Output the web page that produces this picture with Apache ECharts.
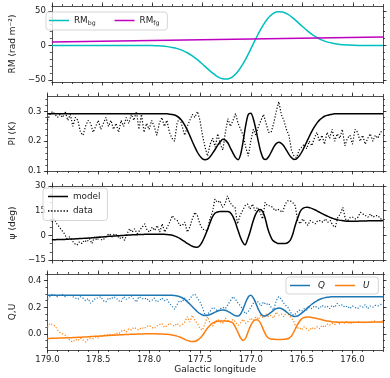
<!DOCTYPE html>
<html>
<head>
<meta charset="utf-8">
<script src="https://cdn.jsdelivr.net/npm/echarts@6/dist/echarts.min.js"></script>
<style>
html, body { margin: 0; padding: 0; background: #fff; }
#chart { width: 390px; height: 378px; }
</style>
</head>
<body>
<div id="chart"></div>
<script>
// longitude grids (deg), 179.0 down to 175.7
const lon = [];
for (let k = 0; k <= 132; k++) lon.push(+(179 - 0.025 * k).toFixed(3));
const lonRm = [];
for (let k = 0; k <= 66; k++) lonRm.push(+(179 - 0.05 * k).toFixed(2));
const lonRmFg = [179.0, 175.7];

// RM panel
const rmBg = [
  0, 0, 0, 0, 0, 0, 0, 0, 0, 0, 0, 0, 0, 0, 0, 0, 0, 0, 0, 0,
  -0.3, -0.6, -1.0, -1.8, -3.0, -4.7, -7.3, -10.7, -15.2, -20.7,
  -26.9, -33.6, -39.9, -45.2, -48.4, -48.7, -45.5, -38.5, -27.9, -14.7,
  0, 14.7, 27.9, 38.5, 45.5, 48.7, 48.4, 45.2, 39.9, 33.6,
  26.9, 20.7, 15.2, 10.7, 7.3, 4.7, 3.0, 1.8, 1.0, 0.6,
  0.3, 0, 0, 0, 0, 0, 0
];
const rmFg = [5, 12];

// PI panel (K)
const piData = [
  0.27, 0.29, 0.30, 0.29, 0.28, 0.29, 0.28, 0.30, 0.27, 0.29,
  0.25, 0.28, 0.27, 0.23, 0.22, 0.25, 0.27, 0.26, 0.23, 0.25,
  0.27, 0.24, 0.26, 0.28, 0.25, 0.27, 0.24, 0.26, 0.23, 0.27,
  0.25, 0.28, 0.26, 0.29, 0.27, 0.30, 0.24, 0.29, 0.23, 0.26,
  0.24, 0.27, 0.25, 0.22, 0.26, 0.28, 0.25, 0.27, 0.23, 0.21,
  0.20, 0.26, 0.28, 0.25, 0.22, 0.25, 0.27, 0.29, 0.28, 0.30,
  0.27, 0.22, 0.18, 0.15, 0.19, 0.21, 0.18, 0.225, 0.19, 0.17,
  0.23, 0.276, 0.25, 0.27, 0.293, 0.26, 0.24, 0.22, 0.18, 0.15,
  0.20, 0.24, 0.22, 0.25, 0.27, 0.29, 0.26, 0.23, 0.23, 0.26,
  0.30, 0.333, 0.29, 0.27, 0.24, 0.22, 0.17, 0.15, 0.145, 0.17,
  0.18, 0.19, 0.175, 0.20, 0.185, 0.21, 0.23, 0.20, 0.22, 0.19,
  0.23, 0.21, 0.24, 0.20, 0.225, 0.21, 0.24, 0.185, 0.21, 0.22,
  0.19, 0.24, 0.23, 0.20, 0.22, 0.19, 0.21, 0.225, 0.20, 0.22,
  0.21, 0.23, 0.235
];
const piModel = [
  0.292, 0.292, 0.292, 0.292, 0.292, 0.292, 0.292, 0.292, 0.292, 0.292,
  0.292, 0.292, 0.292, 0.292, 0.292, 0.292, 0.292, 0.292, 0.292, 0.292,
  0.292, 0.292, 0.292, 0.292, 0.292, 0.292, 0.292, 0.292, 0.292, 0.292,
  0.292, 0.292, 0.292, 0.292, 0.292, 0.292, 0.292, 0.292, 0.292, 0.292,
  0.292, 0.292, 0.292, 0.292, 0.292, 0.292, 0.292, 0.292, 0.291, 0.290,
  0.288, 0.284, 0.278, 0.268, 0.254, 0.238, 0.219, 0.199, 0.180, 0.163,
  0.150, 0.141, 0.138, 0.140, 0.148, 0.160, 0.173, 0.187, 0.198, 0.207,
  0.204, 0.194, 0.177, 0.160, 0.145, 0.138, 0.156, 0.201, 0.253, 0.290,
  0.294, 0.275, 0.240, 0.198, 0.162, 0.141, 0.139, 0.148, 0.163, 0.180,
  0.192, 0.197, 0.193, 0.184, 0.170, 0.156, 0.145, 0.139, 0.141, 0.150,
  0.163, 0.180, 0.198, 0.216, 0.233, 0.248, 0.261, 0.271, 0.278, 0.284,
  0.287, 0.289, 0.291, 0.292, 0.292, 0.292, 0.292, 0.292, 0.292, 0.292,
  0.292, 0.292, 0.292, 0.292, 0.292, 0.292, 0.292, 0.292, 0.292, 0.292,
  0.292, 0.292, 0.292
];

// polarisation angle panel (deg)
const psiData = [
  8, 10, 7, 5, 3, 1, -2, -1, -3, -5,
  -6, -4, -5, -3, -4, -2, -5, -1, -3, -1,
  -3, -2, 0, 1, -1, 1, 0, -2, -1, -3,
  1, 4, 2, 4, 1, 3, 5, 7, 3, 2,
  5, 3, 6, 2, 7, 2, 5, 8, 12, 10,
  9, 6, 6, 8, 2, 5, 10, 14, 12, 7,
  4, 3, 3, 10, 14, 22, 20, 21, 17, 19,
  24, 20, 18, 17, 7, 12, 15, 18, 19, 16,
  19, 15, 17, 14, 10, 20, 18, 18, 17, 15,
  16, 15, 14, 19, 21, 21, 20, 18, 9, 7,
  10, 8, 6, 9, 8, 7, 9, 9, 8, 10,
  8, 9, 6, 5, 11, 13, 17, 10, 9, 11,
  11, 10, 11, 14, 13, 12, 11, 13, 11, 12,
  12, 10, 10
];
const psiModel = [
  -2.7, -2.7, -2.6, -2.6, -2.5, -2.5, -2.4, -2.3, -2.2, -2.2,
  -2.1, -2.0, -1.9, -1.8, -1.7, -1.6, -1.5, -1.4, -1.2, -1.1,
  -1.0, -0.9, -0.7, -0.6, -0.5, -0.4, -0.3, -0.2, -0.1, 0.0,
  0.1, 0.2, 0.3, 0.4, 0.4, 0.5, 0.5, 0.6, 0.6, 0.7,
  0.7, 0.7, 0.7, 0.7, 0.7, 0.6, 0.5, 0.3, 0.0, -0.5,
  -1.1, -1.9, -2.9, -3.9, -4.9, -5.8, -6.6, -7.1, -7.3, -6.2,
  -3.8, -0.5, 3.2, 7.5, 11.2, 13.4, 14.2, 14.5, 14.5, 14.5,
  14.5, 14.0, 12.0, 8.5, 4.0, -0.5, -4.0, -5.8, -2.5, 2.0,
  7.5, 12.0, 14.8, 15.7, 14.5, 10.5, 4.5, 0.0, -3.0, -4.1,
  -4.9, -4.9, -4.9, -4.9, -4.5, -3.1, 0.5, 6.0, 10.5, 14.5,
  16.3, 17.0, 17.1, 16.7, 16.1, 15.4, 14.6, 13.8, 13.0, 12.2,
  11.5, 10.9, 10.3, 9.8, 9.4, 9.1, 8.9, 8.7, 8.6, 8.6,
  8.6, 8.6, 8.6, 8.7, 8.7, 8.7, 8.8, 8.8, 8.8, 8.9,
  8.9, 8.9, 9.0
];

// Stokes Q and U panel
const qData = [
  0.26, 0.28, 0.30, 0.29, 0.28, 0.29, 0.295, 0.28, 0.29, 0.29,
  0.28, 0.27, 0.26, 0.28, 0.27, 0.25, 0.265, 0.23, 0.25, 0.27,
  0.27, 0.28, 0.25, 0.24, 0.27, 0.26, 0.28, 0.27, 0.25, 0.24,
  0.28, 0.26, 0.27, 0.285, 0.26, 0.24, 0.28, 0.27, 0.26, 0.27,
  0.245, 0.25, 0.27, 0.24, 0.25, 0.27, 0.25, 0.26, 0.23, 0.21,
  0.185, 0.22, 0.25, 0.24, 0.27, 0.25, 0.26, 0.29, 0.30, 0.27,
  0.24, 0.20, 0.14, 0.15, 0.17, 0.20, 0.19, 0.17, 0.19, 0.20,
  0.19, 0.22, 0.25, 0.28, 0.26, 0.23, 0.21, 0.18, 0.15, 0.17,
  0.20, 0.23, 0.25, 0.24, 0.21, 0.24, 0.22, 0.23, 0.20, 0.18,
  0.25, 0.28, 0.26, 0.23, 0.21, 0.19, 0.15, 0.14, 0.16, 0.18,
  0.17, 0.19, 0.18, 0.20, 0.19, 0.21, 0.20, 0.19, 0.215, 0.20,
  0.21, 0.19, 0.215, 0.20, 0.23, 0.21, 0.22, 0.20, 0.21, 0.19,
  0.21, 0.20, 0.19, 0.21, 0.20, 0.22, 0.19, 0.21, 0.20, 0.215,
  0.21, 0.22, 0.23
];
const qModel = [
  0.291, 0.291, 0.291, 0.291, 0.291, 0.291, 0.291, 0.291, 0.291, 0.291,
  0.291, 0.291, 0.291, 0.291, 0.291, 0.291, 0.291, 0.291, 0.291, 0.291,
  0.291, 0.291, 0.291, 0.291, 0.291, 0.291, 0.291, 0.291, 0.291, 0.291,
  0.291, 0.291, 0.291, 0.291, 0.291, 0.291, 0.291, 0.291, 0.291, 0.291,
  0.291, 0.291, 0.291, 0.291, 0.291, 0.291, 0.291, 0.291, 0.291, 0.290,
  0.288, 0.285, 0.280, 0.272, 0.259, 0.243, 0.225, 0.205, 0.185, 0.167,
  0.152, 0.142, 0.138, 0.140, 0.146, 0.155, 0.164, 0.172, 0.178, 0.180,
  0.178, 0.170, 0.158, 0.146, 0.137, 0.135, 0.150, 0.190, 0.238, 0.278,
  0.290, 0.270, 0.230, 0.185, 0.150, 0.135, 0.137, 0.148, 0.163, 0.178,
  0.190, 0.195, 0.191, 0.180, 0.166, 0.150, 0.138, 0.132, 0.133, 0.142,
  0.156, 0.172, 0.190, 0.207, 0.223, 0.237, 0.249, 0.259, 0.266, 0.271,
  0.275, 0.278, 0.279, 0.280, 0.280, 0.280, 0.280, 0.280, 0.280, 0.280,
  0.280, 0.280, 0.280, 0.280, 0.280, 0.280, 0.280, 0.280, 0.280, 0.280,
  0.280, 0.280, 0.280
];
const uData = [
  0.05, 0.08, 0.07, 0.06, 0.03, 0.01, 0.0, -0.01, -0.03, -0.05,
  -0.06, -0.04, -0.05, -0.03, -0.045, -0.06, -0.04, -0.03, -0.035, -0.02,
  -0.03, -0.01, -0.02, 0.0, -0.01, 0.0, -0.01, 0.01, 0.0, 0.02,
  0.03, 0.015, 0.04, 0.03, 0.05, 0.04, 0.03, 0.05, 0.04, 0.055,
  0.065, 0.05, 0.04, 0.06, 0.07, 0.08, 0.05, 0.06, 0.08, 0.07,
  0.06, 0.08, 0.06, 0.07, 0.09, 0.13, 0.09, 0.14, 0.10, 0.08,
  0.04, 0.03, 0.08, 0.13, 0.08, 0.06, 0.09, 0.11, 0.09, 0.08,
  0.12, 0.10, 0.09, 0.11, 0.09, 0.065, 0.085, 0.11, 0.08, 0.095,
  0.12, 0.10, 0.13, 0.11, 0.14, 0.12, 0.15, 0.13, 0.14, 0.12,
  0.165, 0.14, 0.15, 0.13, 0.165, 0.14, 0.12, 0.09, 0.04, 0.05,
  0.03, 0.055, 0.04, 0.025, 0.05, 0.035, 0.055, 0.04, 0.065, 0.05,
  0.075, 0.065, 0.08, 0.07, 0.09, 0.075, 0.09, 0.08, 0.095, 0.075,
  0.09, 0.08, 0.095, 0.085, 0.09, 0.08, 0.095, 0.085, 0.09, 0.10,
  0.085, 0.09, 0.10
];
const uModel = [
  -0.033, -0.033, -0.032, -0.032, -0.031, -0.030, -0.030, -0.029, -0.028, -0.028,
  -0.027, -0.026, -0.025, -0.024, -0.023, -0.022, -0.021, -0.019, -0.018, -0.017,
  -0.016, -0.015, -0.014, -0.013, -0.011, -0.010, -0.009, -0.008, -0.007, -0.006,
  -0.005, -0.004, -0.003, -0.002, -0.002, -0.001, 0.000, 0.000, 0.001, 0.001,
  0.001, 0.001, 0.001, 0.001, 0.000, 0.000, -0.001, -0.002, -0.004, -0.007,
  -0.011, -0.016, -0.023, -0.031, -0.040, -0.048, -0.054, -0.057, -0.055, -0.047,
  -0.032, -0.010, 0.018, 0.045, 0.066, 0.081, 0.090, 0.095, 0.097, 0.097,
  0.097, 0.096, 0.093, 0.080, 0.050, 0.010, -0.030, -0.048, -0.030, 0.020,
  0.065, 0.095, 0.107, 0.103, 0.075, 0.030, -0.010, -0.031, -0.038, -0.040,
  -0.041, -0.041, -0.041, -0.040, -0.038, -0.032, -0.015, 0.018, 0.057, 0.090,
  0.113, 0.124, 0.128, 0.127, 0.124, 0.120, 0.116, 0.112, 0.107, 0.102,
  0.098, 0.095, 0.092, 0.090, 0.089, 0.088, 0.088, 0.088, 0.088, 0.088,
  0.088, 0.088, 0.088, 0.088, 0.089, 0.089, 0.089, 0.089, 0.090, 0.090,
  0.090, 0.090, 0.090
];

// tick labels
const lonTicks = [179.0, 178.5, 178.0, 177.5, 177.0, 176.5, 176.0];
const rmTicks = [-50, 0, 50];
const piTicks = [0.1, 0.2, 0.3];
const psiTicks = [-15, 0, 15, 30];
const quTicks = [0.0, 0.2, 0.4];

function steps(a, b, s) {
  const out = [];
  const n = Math.round((b - a) / s);
  for (let i = 0; i <= n; i++) out.push(+(a + i * s).toFixed(4));
  return out;
}
const lonMinor = steps(175.7, 179.0, 0.1);

const FONT = 'DejaVu Sans';
const INK = '#222';
const FRAME = '#222';
const minus = s => s.replace('-', '\u2212');

const panels = [
  { top: 6, height: 76, min: -53, max: 57, ticks: rmTicks, minor: steps(-50, 50, 10),
    name: 'RM (rad m\u207B\u00B2)', fmt: v => minus(v.toFixed(0)) },
  { top: 96, height: 75, min: 0.1, max: 0.352, ticks: piTicks, minor: steps(0.1, 0.34, 0.02),
    name: 'PI (K)', fmt: v => v.toFixed(1) },
  { top: 186, height: 74, min: -15, max: 30, ticks: psiTicks, minor: steps(-15, 30, 5),
    name: '\u03C8 (deg)', fmt: v => minus(v.toFixed(0)) },
  { top: 274, height: 76, min: -0.12, max: 0.45, ticks: quTicks, minor: steps(-0.1, 0.45, 0.05),
    name: 'Q,U', fmt: v => minus(v.toFixed(1)) }
];

const grid = [], xAxis = [], yAxis = [];
panels.forEach((p, i) => {
  const last = i === panels.length - 1;
  grid.push({ left: 42, right: 7, top: p.top, height: p.height });
  // bottom major, bottom minor, top major, top minor
  [['bottom', lonTicks, 3.5, true], ['bottom', lonMinor, 2, false],
   ['top', lonTicks, 3.5, true], ['top', lonMinor, 2, false]].forEach(([pos, vals, len, line], j) => {
    xAxis.push({
      type: 'value', gridIndex: i, position: pos, min: 175.7, max: 179.0, inverse: true,
      axisLine: { show: line, onZero: false, lineStyle: { color: FRAME, width: 0.8 } },
      axisTick: { show: true, customValues: vals, length: len, lineStyle: { color: FRAME, width: 0.8 } },
      axisLabel: { show: last && j === 0, customValues: lonTicks, formatter: v => v.toFixed(1),
        fontFamily: FONT, fontSize: 8.5, color: INK, margin: 5 },
      splitLine: { show: false },
      name: last && j === 0 ? 'Galactic longitude' : '',
      nameLocation: 'middle', nameGap: 15,
      nameTextStyle: { fontFamily: FONT, fontSize: 9, color: INK }
    });
  });
  [['left', p.ticks, 3.5, true], ['left', p.minor, 2, false],
   ['right', p.ticks, 3.5, true], ['right', p.minor, 2, false]].forEach(([pos, vals, len, line], j) => {
    yAxis.push({
      type: 'value', gridIndex: i, position: pos, min: p.min, max: p.max,
      axisLine: { show: line, onZero: false, lineStyle: { color: FRAME, width: 0.8 } },
      axisTick: { show: true, customValues: vals, length: len, lineStyle: { color: FRAME, width: 0.8 } },
      axisLabel: { show: j === 0, customValues: p.ticks, formatter: p.fmt,
        fontFamily: FONT, fontSize: 8.5, color: INK, margin: 6 },
      splitLine: { show: false },
      name: j === 0 ? p.name : '',
      nameLocation: 'middle', nameGap: 30, nameRotate: 90,
      nameTextStyle: { fontFamily: FONT, fontSize: 9, color: INK }
    });
  });
});

function pairs(xs, ys) { return xs.map((x, k) => [x, ys[k]]); }

function line(name, panel, xs, ys, color, width, dotted) {
  return {
    type: 'line', name: name, xAxisIndex: panel * 4, yAxisIndex: panel * 4,
    data: pairs(xs, ys), symbol: 'none', smooth: dotted ? false : 0.3,
    lineStyle: { color: color, width: width, type: dotted ? [1.2, 1.8] : 'solid' },
    itemStyle: { color: color }, z: dotted ? 2 : 3
  };
}

const CYAN = '#00bfbf', MAGENTA = '#bf00bf', BLUE = '#1f77b4', ORANGE = '#ff7f0e';
const series = [
  line('RMbg', 0, lonRm, rmBg, CYAN, 1.5, false),
  line('RMfg', 0, lonRmFg, rmFg, MAGENTA, 1.5, false),
  line('data', 1, lon, piData, '#000', 1.2, true),
  line('model', 1, lon, piModel, '#000', 1.5, false),
  line('data', 2, lon, psiData, '#000', 1.2, true),
  line('model', 2, lon, psiModel, '#000', 1.5, false),
  line('Q data', 3, lon, qData, BLUE, 1.2, true),
  line('U data', 3, lon, uData, ORANGE, 1.2, true),
  line('Q', 3, lon, qModel, BLUE, 1.5, false),
  line('U', 3, lon, uModel, ORANGE, 1.5, false)
];

// legend glyphs: a solid bar and a row of dots
const SOLID = 'path://M0,0H20V1.5H0Z';
let dots = 'path://';
for (let x = 0; x < 20; x += 3) dots += 'M' + x + ',0h1.3v1.3h-1.3Z';

function legendAt(extra) {
  return Object.assign({
    show: true, backgroundColor: 'rgba(255,255,255,0.8)', borderColor: '#cccccc', borderWidth: 0.8,
    borderRadius: 3, itemWidth: 20, itemHeight: 1.5,
    textStyle: { fontFamily: FONT, fontSize: 8.8, color: INK }
  }, extra);
}

const legend = [
  legendAt({
    data: [{ name: 'RMbg', icon: SOLID }, { name: 'RMfg', icon: SOLID }],
    left: 46, top: 12, itemGap: 19, padding: [4, 8, 4, 3],
    formatter: n => '{a|RM}{b|' + n.slice(2) + '}',
    textStyle: { fontFamily: FONT, fontSize: 8.8, color: INK,
      rich: { a: { fontFamily: FONT, fontSize: 8.8, color: INK },
              b: { fontFamily: FONT, fontSize: 6.2, color: INK, padding: [5, 0, 0, 0] } } }
  }),
  legendAt({
    data: [{ name: 'model', icon: SOLID }, { name: 'data', icon: dots }],
    orient: 'vertical', left: 43, top: 188, itemGap: 5.5, padding: [4, 7, 5, 5]
  }),
  legendAt({
    data: [{ name: 'Q', icon: SOLID }, { name: 'U', icon: SOLID }],
    left: 286, top: 277, itemGap: 10, padding: [4, 9, 4, 4],
    textStyle: { fontFamily: FONT, fontSize: 8.8, color: INK, fontStyle: 'italic', padding: [0, 0, 0, 3] }
  })
];

const chart = echarts.init(document.getElementById('chart'), null, { renderer: 'canvas' });
chart.setOption({
  animation: false,
  backgroundColor: '#fff',
  grid: grid,
  xAxis: xAxis,
  yAxis: yAxis,
  legend: legend,
  series: series
});
</script>
</body>
</html>
